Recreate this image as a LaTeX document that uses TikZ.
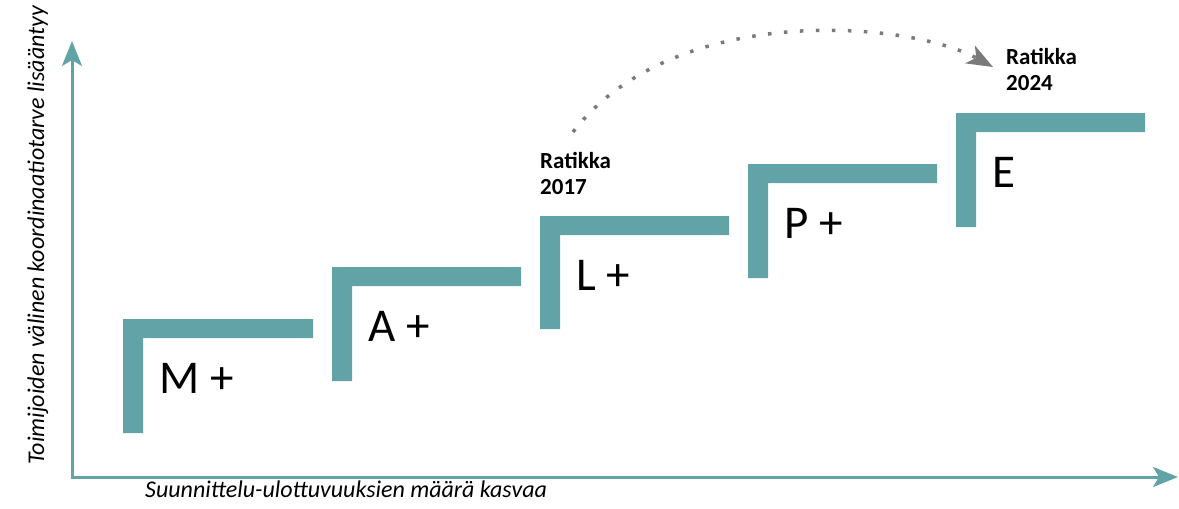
\documentclass[tikz,border=0pt]{standalone}
\usepackage{fontspec}
\setmainfont{Carlito}
\usetikzlibrary{arrows.meta}
\definecolor{tealc}{HTML}{62A3A8}
\definecolor{dotgray}{HTML}{7A7A7A}
\begin{document}
\begin{tikzpicture}[x=1pt,y=-1pt,
  axis/.style={draw=tealc, line width=3pt, line join=miter,
    {Stealth[length=25pt,width=20pt,inset=6pt]}-{Stealth[length=25pt,width=20pt,inset=6pt]}},
  stair/.style={fill=tealc, draw=none},
  steplabel/.style={anchor=base west, inner sep=0pt, font=\fontsize{47}{50}\selectfont},
  axislabel/.style={anchor=base west, inner sep=0pt, font=\itshape\fontsize{24}{28}\selectfont},
  yearlabel/.style={anchor=base west, inner sep=0pt, align=left, font=\bfseries\fontsize{23}{26}\selectfont},
  jump/.style={draw=dotgray, line width=3.5pt, dash pattern=on 3.5pt off 12.5pt,
    -{Stealth[length=26pt,width=20pt,inset=7pt]}}]
\useasboundingbox (0,0) rectangle (1179,509);
% axes
\coordinate (O) at (72,477);
\coordinate (ytip) at (72,41);
\coordinate (xtip) at (1178,477);
\path[axis] (ytip) -- (O) -- (xtip);
\node[axislabel] (xlab) at (145,497) {Suunnittelu-ulottuvuuksien määrä kasvaa};
\node[axislabel, rotate=90] (ylab) at (44,465) {Toimijoiden välinen koordinaatiotarve lisääntyy};
% stairs
\foreach \l/\t/\r/\b/\n/\txt in {123/319/313/433/M/{M +},332/267/521/381/A/{A +},540/216/729/329/L/{L +},748/164/937/278/P/{P +},956/113/1145/227/E/{E}}{
  \fill[stair] (\l,\t) -- (\r,\t) -- (\r,\t+19) -- (\l+20,\t+19) -- (\l+20,\b) -- (\l,\b) -- cycle;
  \node[steplabel] (lab\n) at (\l+36,\t+74) {\txt};
}
% ratikka labels
\node[yearlabel] (r2017) at (540,194) {Ratikka\\2017};
\node[yearlabel] (r2024) at (1006,90) {Ratikka\\2024};
\coordinate (s2017) at (573,132);
\coordinate (e2024) at (993,67);
\draw[jump] (s2017) .. controls (673,2) and (907,20) .. (e2024);
\end{tikzpicture}
\end{document}
